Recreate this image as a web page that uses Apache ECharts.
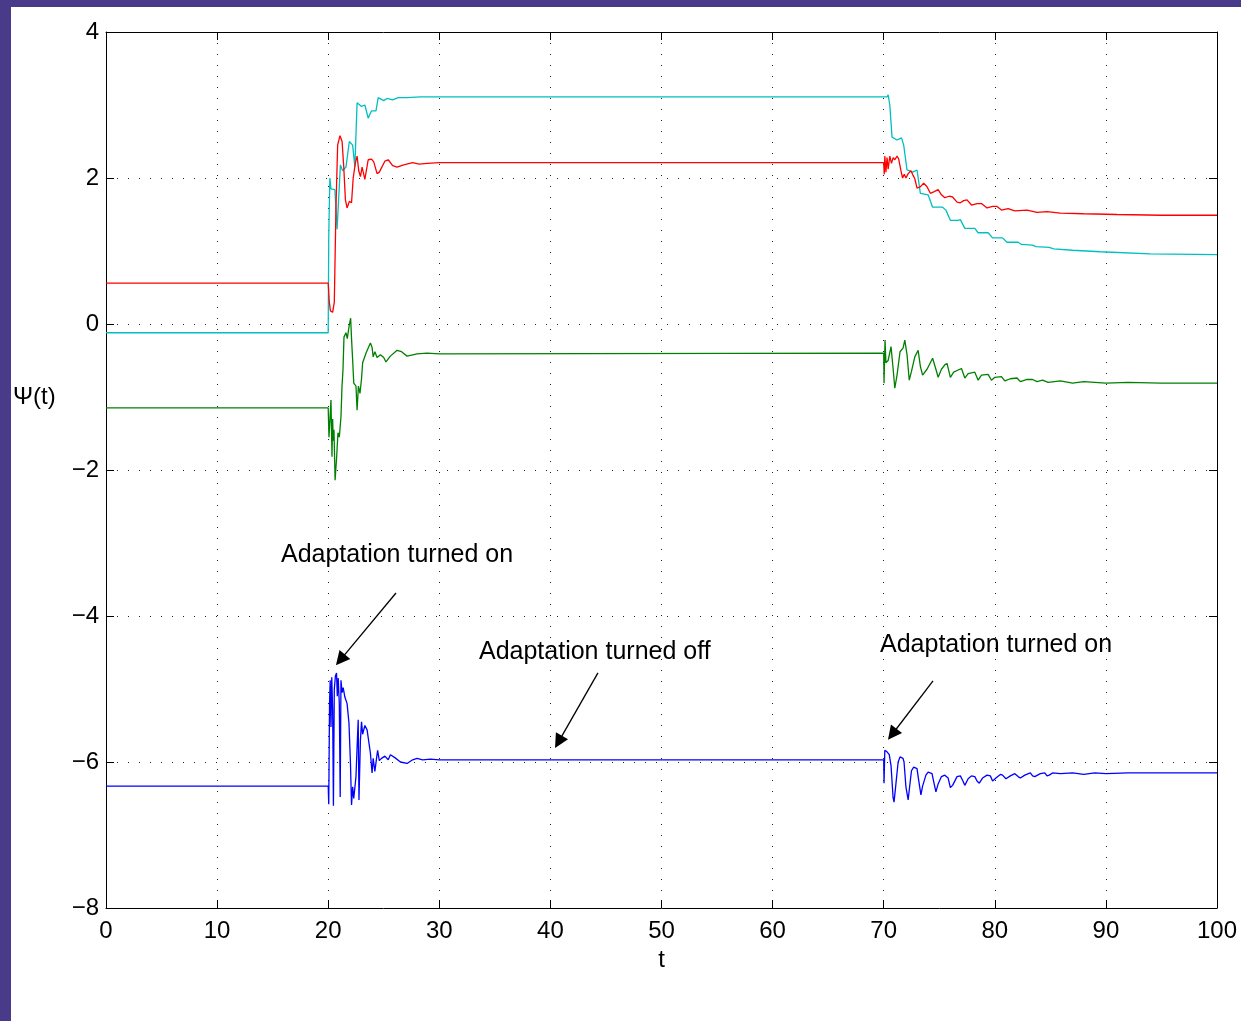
<!DOCTYPE html>
<html>
<head>
<meta charset="utf-8">
<script src="https://cdn.jsdelivr.net/npm/echarts@6/dist/echarts.min.js"></script>
<style>
  html, body { margin: 0; padding: 0; }
  body { width: 1241px; height: 1021px; background: #4a3a8a; position: relative; overflow: hidden; }
  #main { position: absolute; left: 11px; top: 7px; width: 1230px; height: 1014px; background: #fff; }
</style>
</head>
<body>
<div id="main"></div>
<script>
// axis ticks
const xTicks = [0, 10, 20, 30, 40, 50, 60, 70, 80, 90, 100]
const yTicks = [-8, -6, -4, -2, 0, 2, 4]

// four components of Psi(t), [t, value]
const psiCyan = [
  [0, -0.12], [20, -0.12], [20.05, 1.2], [20.15, 2.0], [20.25, 1.85], [20.6, 1.84], [20.8, 1.3],
  [21.1, 2.18], [21.3, 2.1], [21.6, 2.15], [21.9, 2.5], [22.2, 2.45], [22.4, 2.15], [22.6, 3.03],
  [23.0, 2.98], [23.3, 3.0], [23.6, 2.82], [23.9, 2.92], [24.3, 2.92], [24.5, 3.1], [25.0, 3.06],
  [25.3, 3.09], [25.8, 3.07], [26.3, 3.1], [27.1, 3.1], [28.3, 3.11], [70, 3.11],
  [70.3, 3.11], [70.4, 3.14], [70.55, 3.0], [70.75, 2.56], [71.2, 2.52], [71.6, 2.55], [71.8, 2.45],
  [72.1, 2.11], [72.6, 2.08], [73.0, 2.11], [73.3, 1.79], [74.0, 1.77], [74.4, 1.6], [75.3, 1.6],
  [75.6, 1.56], [76.0, 1.42], [76.7, 1.42], [76.9, 1.43], [77.3, 1.31], [78.2, 1.31], [78.5, 1.25],
  [79.4, 1.25], [79.8, 1.18], [80.7, 1.18], [81.1, 1.12], [82.1, 1.12], [82.4, 1.09], [83.4, 1.08],
  [83.7, 1.06], [84.9, 1.05], [85.3, 1.03], [87, 1.01], [89.5, 0.99], [94, 0.96], [100, 0.95]
]
const psiRed = [
  [0, 0.56], [20, 0.56], [20.1, 0.3], [20.2, 0.18], [20.4, 0.16], [20.55, 0.3], [20.7, 1.6],
  [20.85, 2.45], [21.06, 2.58], [21.25, 2.5], [21.4, 2.15], [21.55, 1.7], [21.7, 1.59], [21.9, 1.68],
  [22.1, 1.66], [22.25, 2.0], [22.45, 2.21], [22.6, 2.3], [22.75, 2.1], [22.9, 2.02], [23.05, 2.15],
  [23.3, 1.98], [23.6, 2.25], [23.9, 2.26], [24.1, 2.22], [24.4, 2.06], [24.6, 2.08], [25.1, 2.23],
  [25.4, 2.25], [25.8, 2.17], [26.2, 2.15], [26.8, 2.18], [27.6, 2.21], [28.2, 2.19], [28.9, 2.2],
  [30, 2.21], [70, 2.21],
  [70.05, 2.05], [70.1, 2.3], [70.2, 2.08], [70.3, 2.28], [70.4, 2.12], [70.55, 2.3], [70.7, 2.2],
  [70.85, 2.28], [71.0, 2.25], [71.2, 2.3], [71.35, 2.26], [71.55, 2.1], [71.7, 2.0], [71.85, 2.05],
  [72.0, 2.0], [72.2, 2.06], [72.45, 2.1], [72.6, 2.05], [72.8, 1.99], [73.0, 1.86], [73.3, 1.88],
  [73.6, 1.93], [73.9, 1.88], [74.2, 1.79], [74.5, 1.81], [74.9, 1.84], [75.2, 1.77], [75.5, 1.73],
  [75.9, 1.75], [76.2, 1.74], [76.6, 1.67], [76.9, 1.66], [77.2, 1.69], [77.5, 1.70], [77.9, 1.63],
  [78.4, 1.65], [78.8, 1.65], [79.3, 1.59], [79.8, 1.61], [80.2, 1.61], [80.6, 1.56], [81.2, 1.58],
  [81.8, 1.55], [82.9, 1.56], [83.8, 1.53], [84.7, 1.54], [85.9, 1.52], [88, 1.51], [91, 1.5],
  [95, 1.49], [100, 1.49]
]
const psiGreen = [
  [0, -1.15], [20, -1.15], [20.07, -1.55], [20.16, -1.3], [20.25, -1.04], [20.34, -1.82], [20.4, -1.3],
  [20.45, -1.6], [20.52, -1.45], [20.62, -2.14], [20.75, -1.85], [20.88, -1.49], [21.0, -1.55],
  [21.15, -1.27], [21.24, -0.86], [21.33, -0.63], [21.42, -0.18], [21.6, -0.12], [21.72, -0.2],
  [21.87, -0.04], [22.02, 0.08], [22.1, -0.2], [22.2, -0.49], [22.3, -0.81], [22.5, -0.85],
  [22.6, -1.18], [22.72, -0.85], [22.86, -0.95], [23.0, -0.75], [23.1, -0.53], [23.4, -0.40],
  [23.6, -0.33], [23.8, -0.26], [23.95, -0.32], [24.05, -0.45], [24.2, -0.38], [24.4, -0.46],
  [24.7, -0.42], [25.0, -0.46], [25.2, -0.52], [25.6, -0.44], [26.2, -0.36], [26.6, -0.38],
  [27.1, -0.44], [28.0, -0.41], [28.9, -0.40], [30, -0.41], [70, -0.4],
  [70.03, -0.81], [70.12, -0.22], [70.2, -0.53], [70.4, -0.5], [70.66, -0.31], [70.84, -0.6],
  [71.0, -0.88], [71.2, -0.7], [71.47, -0.38], [71.74, -0.33], [71.9, -0.22], [72.1, -0.42],
  [72.3, -0.77], [72.5, -0.65], [72.8, -0.45], [73.1, -0.36], [73.3, -0.58], [73.5, -0.70],
  [73.9, -0.62], [74.2, -0.53], [74.4, -0.47], [74.7, -0.62], [74.9, -0.73], [75.2, -0.62],
  [75.5, -0.56], [75.7, -0.54], [76.0, -0.73], [76.3, -0.66], [76.7, -0.63], [77.0, -0.61],
  [77.3, -0.74], [77.6, -0.68], [78.2, -0.66], [78.5, -0.77], [78.8, -0.70], [79.4, -0.69],
  [79.7, -0.77], [80.0, -0.73], [80.6, -0.72], [80.9, -0.78], [81.4, -0.75], [82.0, -0.74],
  [82.3, -0.79], [82.9, -0.76], [83.4, -0.76], [83.8, -0.79], [84.3, -0.77], [84.8, -0.80],
  [85.9, -0.78], [87, -0.81], [88, -0.79], [90, -0.81], [92, -0.8], [95, -0.81], [100, -0.81]
]
const psiBlue = [
  [0, -6.33], [20, -6.33], [20.05, -6.58], [20.12, -5.2], [20.18, -4.88], [20.25, -5.52],
  [20.32, -4.84], [20.4, -5.29], [20.47, -6.6], [20.55, -5.0], [20.65, -4.82], [20.75, -4.78],
  [20.82, -5.1], [20.9, -4.85], [21.0, -5.2], [21.08, -6.48], [21.15, -4.88], [21.25, -5.05],
  [21.35, -4.98], [21.5, -5.11], [21.7, -5.2], [21.87, -5.47], [22.0, -6.0], [22.1, -6.59],
  [22.2, -6.34], [22.3, -6.5], [22.5, -6.2], [22.6, -5.8], [22.7, -5.42], [22.77, -6.52],
  [22.9, -5.7], [23.0, -5.45], [23.1, -5.62], [23.3, -5.5], [23.5, -5.56], [23.65, -5.55],
  [23.8, -5.88], [23.95, -6.15], [24.05, -5.95], [24.2, -6.13], [24.35, -5.95], [24.45, -5.84],
  [24.6, -5.98], [24.8, -5.95], [25.1, -5.92], [25.4, -5.97], [25.6, -5.9], [26.0, -5.94],
  [26.5, -6.0], [27.1, -6.02], [27.6, -5.97], [28.0, -5.95], [28.5, -5.97], [29.2, -5.96],
  [30, -5.97], [70, -5.97],
  [70.03, -6.29], [70.1, -5.84], [70.3, -5.86], [70.5, -5.9], [70.66, -6.05], [70.84, -6.48],
  [70.93, -6.55], [71.1, -6.3], [71.3, -6.0], [71.47, -5.93], [71.74, -5.95], [71.83, -6.0],
  [72.0, -6.34], [72.2, -6.52], [72.4, -6.25], [72.5, -6.12], [72.7, -6.07], [73.0, -6.09],
  [73.1, -6.2], [73.35, -6.45], [73.5, -6.33], [73.8, -6.18], [74.0, -6.14], [74.35, -6.16],
  [74.5, -6.27], [74.7, -6.41], [74.9, -6.3], [75.2, -6.2], [75.5, -6.18], [75.8, -6.22],
  [76.0, -6.35], [76.2, -6.32], [76.6, -6.2], [76.9, -6.19], [77.1, -6.25], [77.3, -6.32],
  [77.6, -6.23], [77.9, -6.19], [78.2, -6.2], [78.4, -6.26], [78.6, -6.29], [78.9, -6.22],
  [79.3, -6.18], [79.6, -6.19], [79.8, -6.26], [80.1, -6.22], [80.5, -6.17], [80.7, -6.18],
  [81.0, -6.23], [81.4, -6.19], [81.8, -6.16], [82.1, -6.2], [82.3, -6.22], [82.7, -6.18],
  [83.2, -6.15], [83.4, -6.19], [83.6, -6.2], [84.1, -6.16], [84.5, -6.15], [84.7, -6.19],
  [84.9, -6.18], [85.2, -6.15], [85.9, -6.16], [87, -6.15], [88, -6.17], [89, -6.15],
  [90, -6.16], [92, -6.15], [95, -6.15], [100, -6.15]
]

// annotation texts (left-middle anchor) and arrows [from, to] in data coords
const noteTexts = [
  { text: 'Adaptation turned on', at: [15.75, -3.17] },
  { text: 'Adaptation turned off', at: [33.57, -4.5] },
  { text: 'Adaptation turned on', at: [69.67, -4.4] }
]
const noteArrows = [
  [[26.1, -3.685], [21.1, -4.60]],
  [[44.28, -4.78], [40.73, -5.725]],
  [[74.44, -4.89], [70.77, -5.62]]
]

const FONT = 'Liberation Sans, Arial, Helvetica, sans-serif'
const fmtNum = v => (v < 0 ? '\u2212' + Math.abs(v) : String(v))

const chart = echarts.init(document.getElementById('main'))

const axisLine = { show: true, onZero: false, lineStyle: { color: '#000', width: 1 } }
const tick = { show: true, inside: true, length: 8, lineStyle: { color: '#000' } }
const dotted = { show: true, lineStyle: { color: '#222', width: 1, type: [1, 10] } }

function line (name, data, color, extra) {
  return Object.assign({
    name,
    type: 'line',
    data,
    showSymbol: false,
    symbol: 'none',
    lineStyle: { color, width: 1.3 },
    itemStyle: { color },
    z: 3
  }, extra || {})
}

chart.setOption({
  animation: false,
  backgroundColor: '#fff',
  textStyle: { fontFamily: FONT },
  grid: { left: 95, right: 24, top: 25, bottom: 113 },
  xAxis: [{
    type: 'value',
    min: xTicks[0],
    max: xTicks[xTicks.length - 1],
    interval: 10,
    position: 'bottom',
    name: 't',
    nameLocation: 'middle',
    nameGap: 40,
    nameTextStyle: { fontSize: 24, color: '#000', fontFamily: FONT },
    axisLine,
    axisTick: tick,
    axisLabel: { fontSize: 24, color: '#000', margin: 11, fontFamily: FONT, formatter: fmtNum },
    splitLine: dotted
  }, {
    type: 'value',
    min: xTicks[0],
    max: xTicks[xTicks.length - 1],
    interval: 10,
    position: 'top',
    axisLine,
    axisTick: tick,
    axisLabel: { show: false },
    splitLine: { show: false }
  }],
  yAxis: [{
    type: 'value',
    min: yTicks[0],
    max: yTicks[yTicks.length - 1],
    interval: 2,
    position: 'left',
    axisLine,
    axisTick: tick,
    axisLabel: { fontSize: 24, color: '#000', margin: 7, fontFamily: FONT, formatter: fmtNum },
    splitLine: dotted
  }, {
    type: 'value',
    min: yTicks[0],
    max: yTicks[yTicks.length - 1],
    interval: 2,
    position: 'right',
    axisLine,
    axisTick: tick,
    axisLabel: { show: false },
    splitLine: { show: false }
  }],
  graphic: [{
    type: 'text',
    left: 2,
    top: 378,
    style: { text: '\u03A8(t)', fontSize: 24, fill: '#000', fontFamily: FONT }
  }],
  series: [
    line('psi1', psiCyan, '#00bfbf'),
    line('psi2', psiRed, '#ff0000'),
    line('psi3', psiGreen, '#008000'),
    line('psi4', psiBlue, '#0000ff', {
      markLine: {
        silent: true,
        symbol: ['none', 'triangle'],
        symbolSize: 14,
        label: { show: false },
        lineStyle: { color: '#000', width: 1.3, type: 'solid' },
        itemStyle: { color: '#000' },
        data: noteArrows.map(a => [{ coord: a[0] }, { coord: a[1] }])
      },
      markPoint: {
        silent: true,
        symbol: 'circle',
        symbolSize: 0,
        label: {
          show: true,
          position: 'right',
          distance: 0,
          color: '#000',
          fontSize: 25,
          fontFamily: FONT,
          formatter: p => p.name
        },
        data: noteTexts.map(n => ({ name: n.text, coord: n.at }))
      }
    })
  ]
})
</script>
</body>
</html>
